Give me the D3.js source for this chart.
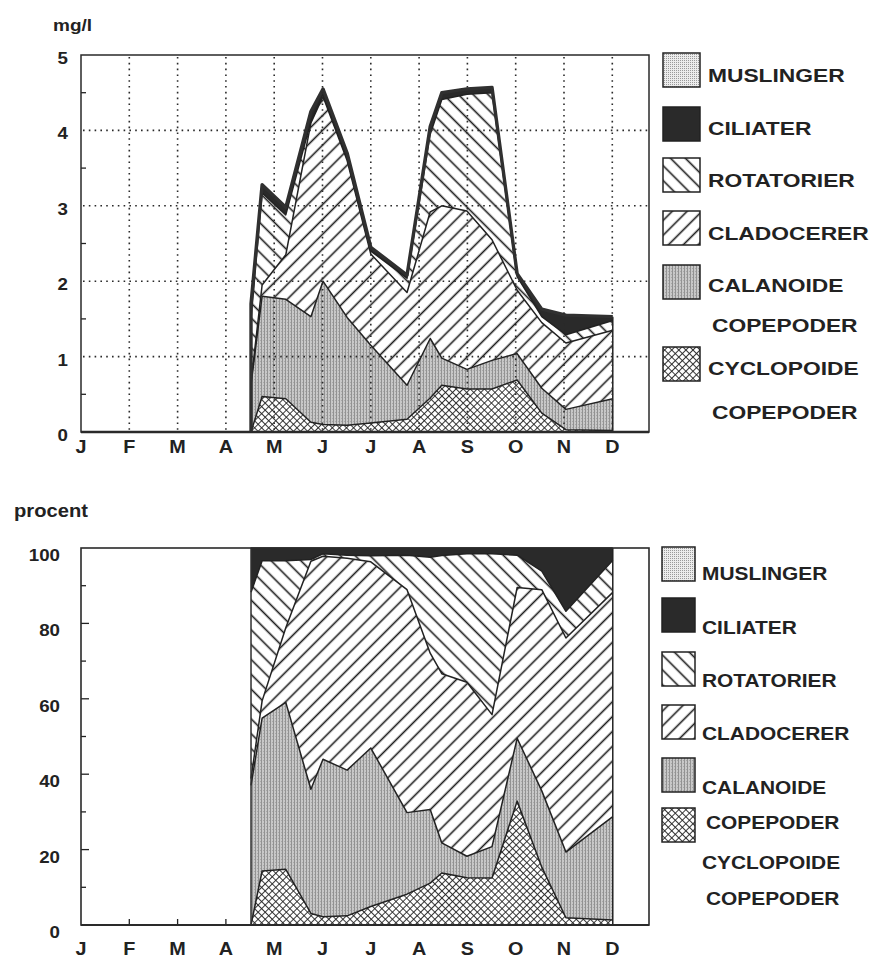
<!DOCTYPE html>
<html><head><meta charset="utf-8">
<script src="https://cdn.jsdelivr.net/npm/d3@7"></script>
<style>body{margin:0;background:#fff} svg{display:block}</style>
</head><body>
<svg id="c" width="873" height="965"></svg>
<script>
// ---------------- DATA ----------------
const monthLabels = ["J","F","M","A","M","J","J","A","S","O","N","D"];
// sampling dates, in months from 1 January
const sampleMonth = [3.52,3.75,4.24,4.76,5.01,5.51,6.00,6.75,7.23,7.47,7.99,8.51,9.03,9.54,10.04,11.01];
// biomass, mg/l
const cyclopoide = [0.00,0.47,0.44,0.13,0.10,0.09,0.12,0.17,0.45,0.62,0.57,0.57,0.69,0.25,0.03,0.02];
const calanoide  = [0.63,1.33,1.32,1.40,1.90,1.43,1.03,0.45,0.79,0.36,0.26,0.38,0.35,0.33,0.27,0.42];
const cladocerer = [0.03,0.15,0.59,2.57,2.45,2.08,1.21,1.23,1.68,2.02,2.10,1.60,0.84,0.87,0.88,0.91];
const rotatorier = [0.84,1.22,0.53,0.02,0.03,0.03,0.04,0.19,1.03,1.41,1.55,1.95,0.18,0.08,0.11,0.13];
const ciliater   = [0.20,0.11,0.10,0.13,0.07,0.07,0.05,0.04,0.10,0.09,0.07,0.07,0.04,0.10,0.26,0.05];
const muslinger  = [0,0,0,0,0,0,0,0,0,0,0,0,0,0,0,0];
const seriesKeys = ["cyclopoide","calanoide","cladocerer","rotatorier","ciliater","muslinger"];
const legendLabels = [["MUSLINGER"],["CILIATER"],["ROTATORIER"],["CLADOCERER"],["CALANOIDE","COPEPODER"],["CYCLOPOIDE","COPEPODER"]];
const legendKeys = ["muslinger","ciliater","rotatorier","cladocerer","calanoide","cyclopoide"];
const mgTicks = [0,1,2,3,4,5];
const pctTicks = [0,20,40,60,80,100];
const topUnit = "mg/l", bottomUnit = "procent";

// ---------------- SETUP ----------------
const svg = d3.select("#c");
const FONT = "'Liberation Sans', Arial, Helvetica, sans-serif";
const INK = "#222";
const rows = sampleMonth.map((m,i)=>({m, cyclopoide:cyclopoide[i], calanoide:calanoide[i], cladocerer:cladocerer[i],
  rotatorier:rotatorier[i], ciliater:ciliater[i], muslinger:muslinger[i]}));

const defs = svg.append("defs");
function hatch(id, angle, step){
  const p = defs.append("pattern").attr("id",id).attr("patternUnits","userSpaceOnUse")
    .attr("width",step).attr("height",step).attr("patternTransform",`rotate(${angle})`);
  p.append("rect").attr("width",step).attr("height",step).attr("fill","#fff");
  p.append("line").attr("x1",step/2).attr("x2",step/2).attr("y1",0).attr("y2",step)
    .attr("stroke","#1b1b1b").attr("stroke-width",1.6);
}
hatch("pCla",45,10.5);
hatch("pRot",-45,10.5);
{ const p = defs.append("pattern").attr("id","pCyc").attr("patternUnits","userSpaceOnUse")
    .attr("width",5).attr("height",5).attr("patternTransform","rotate(45)");
  p.append("rect").attr("width",5).attr("height",5).attr("fill","#fff");
  p.append("line").attr("x1",2.5).attr("x2",2.5).attr("y1",0).attr("y2",5).attr("stroke","#222").attr("stroke-width",0.9);
  p.append("line").attr("y1",2.5).attr("y2",2.5).attr("x1",0).attr("x2",5).attr("stroke","#222").attr("stroke-width",0.9); }
{ const p = defs.append("pattern").attr("id","pCal").attr("patternUnits","userSpaceOnUse").attr("width",3).attr("height",3);
  p.append("rect").attr("width",3).attr("height",3).attr("fill","#c8c8c8");
  p.append("rect").attr("x",0).attr("width",1).attr("height",3).attr("fill","#929292");
  p.append("rect").attr("x",2).attr("y",1).attr("width",1).attr("height",1).attr("fill","#a8a8a8"); }
{ const p = defs.append("pattern").attr("id","pMus").attr("patternUnits","userSpaceOnUse").attr("width",2).attr("height",2);
  p.append("rect").attr("width",2).attr("height",2).attr("fill","#ececec");
  p.append("rect").attr("width",1).attr("height",1).attr("fill","#9a9a9a"); }
const fills = {cyclopoide:"url(#pCyc)", calanoide:"url(#pCal)", cladocerer:"url(#pCla)",
  rotatorier:"url(#pRot)", ciliater:"#2a2a2a", muslinger:"url(#pMus)"};

function stext(g, x, y, str, size, sx, anchor){
  return g.append("text").attr("transform",`translate(${x},${y}) scale(${sx},1)`)
    .attr("text-anchor",anchor||"start").attr("fill",INK)
    .style("font-family",FONT).style("font-weight","bold").style("font-size",size+"px").text(str);
}

const L = 81, R = 649;
const x = d3.scaleLinear().domain([0,11.76]).range([L,R]);
const stackAbs = d3.stack().keys(seriesKeys)(rows);
const stackPct = d3.stack().keys(seriesKeys).offset(d3.stackOffsetExpand)(rows);

function drawPanel(g, stacked, y, top, bottom, thickOutline){
  const area = d3.area().x(d=>x(d.data.m)).y0(d=>y(d[0])).y1(d=>y(d[1])).curve(d3.curveLinear);
  const line = d3.line().x(d=>x(d.data.m)).y(d=>y(d[1])).curve(d3.curveLinear);
  g.append("g").selectAll("path").data(stacked).join("path")
    .attr("d",area).attr("fill",s=>fills[s.key]).attr("stroke","none");
  // boundaries between components
  g.append("g").selectAll("path").data(stacked.slice(0,4)).join("path")
    .attr("d",line).attr("fill","none").attr("stroke",INK).attr("stroke-width",1.5).attr("stroke-linejoin","round");
  const last = stacked[stacked.length-1];
  const first = last[0], end = last[last.length-1];
  // right edge
  g.append("line").attr("x1",x(end.data.m)).attr("x2",x(end.data.m)).attr("y1",y(0)).attr("y2",y(end[1]))
    .attr("stroke",INK).attr("stroke-width",1.5);
  // top outline incl. left edge
  const outline = d3.line().x(d=>d[0]).y(d=>d[1]);
  const pts = [[x(first.data.m), y(0)]].concat(last.map(d=>[x(d.data.m), y(d[1])]));
  g.append("path").attr("d",outline(pts)).attr("fill","none").attr("stroke","#303030")
    .attr("stroke-width",thickOutline).attr("stroke-linejoin","round");
}

// ---------------- TOP PANEL ----------------
const yT = d3.scaleLinear().domain([0,5]).range([432,55]);
const gT = svg.append("g");
drawPanel(gT, stackAbs, yT, 55, 432, 3.4);
// dotted grid
gT.append("g").selectAll("line").data(d3.range(1,12)).join("line")
  .attr("x1",d=>x(d)).attr("x2",d=>x(d)).attr("y1",57).attr("y2",430)
  .attr("stroke","#2a2a2a").attr("stroke-width",1.6).attr("stroke-dasharray","1.6,4.2");
gT.append("g").selectAll("line").data(mgTicks.filter(v=>v>0&&v<5)).join("line")
  .attr("x1",L+2).attr("x2",R-1).attr("y1",d=>yT(d)).attr("y2",d=>yT(d))
  .attr("stroke","#2a2a2a").attr("stroke-width",1.6).attr("stroke-dasharray","1.6,4.2");
// minor ticks
gT.append("g").selectAll("line").data([0.5,1.5,2.5,3.5,4.5]).join("line")
  .attr("x1",L).attr("x2",L+5).attr("y1",d=>yT(d)).attr("y2",d=>yT(d)).attr("stroke",INK).attr("stroke-width",1.3);
gT.append("rect").attr("x",L).attr("y",55).attr("width",R-L).attr("height",432-55)
  .attr("fill","none").attr("stroke","#2a2a2a").attr("stroke-width",1.5);
gT.append("line").attr("x1",L).attr("x2",R).attr("y1",432).attr("y2",432).attr("stroke","#2a2a2a").attr("stroke-width",2.5);
mgTicks.forEach(v=>stext(gT, 68, yT(v)+9, String(v), 17, 1.1, "end"));
monthLabels.forEach((m,i)=>stext(gT, x(i), 453, m, 18, 1.1, "middle"));
stext(gT, 53, 31, topUnit, 17, 1.12, "start");

// ---------------- BOTTOM PANEL ----------------
const yB = d3.scaleLinear().domain([0,1]).range([925,548]);
const yBp = d3.scaleLinear().domain([0,100]).range([925,548]);
const gB = svg.append("g");
// inner ticks
gB.append("g").selectAll("line").data(d3.range(10,100,10)).join("line")
  .attr("x1",L).attr("x2",d=>L+(d%20===0?8:5)).attr("y1",d=>yBp(d)).attr("y2",d=>yBp(d))
  .attr("stroke",INK).attr("stroke-width",1.3);
gB.append("g").selectAll("line").data(d3.range(1,12)).join("line")
  .attr("x1",d=>x(d)).attr("x2",d=>x(d)).attr("y1",925).attr("y2",919).attr("stroke",INK).attr("stroke-width",1.3);
drawPanel(gB, stackPct, yB, 548, 925, 1.5);
gB.append("rect").attr("x",L).attr("y",548).attr("width",R-L).attr("height",925-548)
  .attr("fill","none").attr("stroke","#2a2a2a").attr("stroke-width",1.6);
gB.append("line").attr("x1",L).attr("x2",R).attr("y1",925).attr("y2",925).attr("stroke","#2a2a2a").attr("stroke-width",2.2);
pctTicks.forEach(v=>stext(gB, 60, yBp(v)+13, String(v), 17, 1.1, "end"));
monthLabels.forEach((m,i)=>stext(gB, x(i), 955, m, 18, 1.1, "middle"));
stext(gB, 14, 517, bottomUnit, 18, 1.12, "start");

// ---------------- LEGENDS ----------------
function legend(g, bx, bw, bh, boxY, tx, tx2, textY, size, sx){
  let li = 0;
  legendKeys.forEach((k,i)=>{
    g.append("rect").attr("x",bx).attr("y",boxY[i]).attr("width",bw).attr("height",bh)
      .attr("fill",fills[k]).attr("stroke","#222").attr("stroke-width",1.5);
    legendLabels[i].forEach((t,j)=>{ stext(g, j===0?tx:tx2, textY[li], t, size, sx, "start"); li++; });
  });
}
legend(svg.append("g"), 663, 37, 34, [53,107,158,211,265,347], 708, 712,
  [82,135,187,240,292,332,375,419], 19, 1.2);
legend(svg.append("g"), 662, 33, 34, [547,598,652,705,758,808], 702, 706,
  [580,634,687,740,794,829,869,905], 18.5, 1.13);
</script>
</body></html>
